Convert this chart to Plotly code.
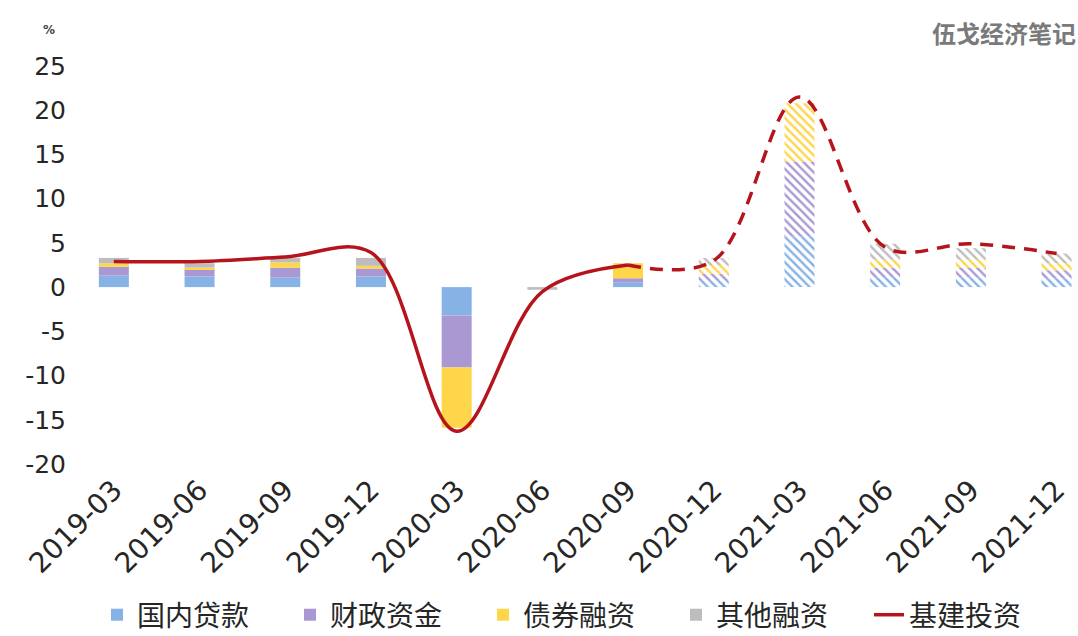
import plotly.graph_objects as go

# Quarterly contributions to infrastructure investment growth (%)
quarters = ['2019-03', '2019-06', '2019-09', '2019-12', '2020-03', '2020-06',
            '2020-09', '2020-12', '2021-03', '2021-06', '2021-09', '2021-12']

domestic_loans = [1.3, 1.2, 1.1, 1.2, -3.2, 0.0, 0.5, 0.8, 5.7, 1.1, 1.1, 1.0]
fiscal_funds = [1.0, 0.8, 1.1, 0.9, -5.9, 0.0, 0.5, 0.7, 8.5, 1.1, 1.1, 0.9]
bond_financing = [0.4, 0.2, 0.6, 0.3, -6.8, 0.0, 1.7, 1.0, 6.6, 0.9, 0.9, 0.8]
other_financing = [0.6, 0.5, 0.5, 0.9, 0.0, -0.3, 0.0, 0.8, 0.0, 1.8, 1.3, 1.1]
infra_investment = [2.9, 2.9, 3.4, 3.9, -16.3, -0.5, 2.5, 3.0, 21.5, 4.5, 4.9, 3.8]

y_ticks = [-20, -15, -10, -5, 0, 5, 10, 15, 20, 25]
y_tick_text = ['-20', '-15', '-10', '-5', '0', '5', '10', '15', '20', '25']

# Index of the last actual quarter; later quarters are projections
last_actual = 6

series = [
    ('国内贷款', domestic_loans, '#86B2E6'),
    ('财政资金', fiscal_funds, '#AA98D2'),
    ('债券融资', bond_financing, '#FFD54A'),
    ('其他融资', other_financing, '#BDBDBD'),
]

font_family = 'DejaVu Sans'
text_color = '#262626'
line_color = '#B5141C'

fig = go.Figure()

shapes = ['' if i <= last_actual else '\\' for i in range(len(quarters))]

for name, values, color in series:
    fig.add_trace(go.Bar(
        x=quarters,
        y=values,
        name=name,
        marker=dict(
            color=color,
            line=dict(width=0),
            pattern=dict(shape=shapes, fillmode='replace', fgcolor=color,
                         bgcolor='white', size=6, solidity=0.4),
        ),
    ))

# Actual investment growth: solid smoothed line
fig.add_trace(go.Scatter(
    x=quarters[:last_actual + 1],
    y=infra_investment[:last_actual + 1],
    name='基建投资',
    mode='lines',
    line=dict(color=line_color, width=3.5, shape='spline', smoothing=1.0),
))

# Projected investment growth: dashed smoothed line
fig.add_trace(go.Scatter(
    x=quarters[last_actual:],
    y=infra_investment[last_actual:],
    name='基建投资',
    mode='lines',
    showlegend=False,
    line=dict(color=line_color, width=3.5, shape='spline', smoothing=1.0,
              dash='13px,9px'),
))

fig.update_layout(
    width=1078,
    height=636,
    margin=dict(l=71, r=0, t=66, b=172),
    paper_bgcolor='white',
    plot_bgcolor='white',
    barmode='relative',
    bargap=0.65,
    font=dict(family=font_family, color=text_color),
    xaxis=dict(
        type='category',
        range=[-0.5, 11.25],
        tickangle=-45,
        tickfont=dict(size=28, family=font_family, color=text_color),
        showgrid=False,
        showline=False,
        zeroline=False,
        ticks='',
        ticklabelstandoff=3,
        automargin=False,
    ),
    yaxis=dict(
        range=[-20, 25],
        tickvals=y_ticks,
        ticktext=y_tick_text,
        tickfont=dict(size=25, family=font_family, color=text_color),
        showgrid=False,
        showline=False,
        zeroline=False,
        ticks='',
        ticklabelstandoff=4,
        automargin=False,
    ),
    legend=dict(
        orientation='h',
        xref='container',
        yref='container',
        x=0.09,
        xanchor='left',
        y=0.033,
        yanchor='middle',
        font=dict(size=28, family='Noto Sans CJK SC', color=text_color),
        itemwidth=30,
        entrywidth=148,
        entrywidthmode='pixels',
        traceorder='normal',
    ),
    annotations=[
        dict(text='<b>%</b>', xref='paper', yref='paper', x=-0.022, y=1.09,
             xanchor='center', yanchor='middle', showarrow=False,
             font=dict(size=12, family=font_family, color='#444444')),
        dict(text='<b>伍戈经济笔记</b>', xref='paper', yref='paper', x=1.0, y=1.085,
             xanchor='right', yanchor='middle', showarrow=False,
             font=dict(size=24, family='Noto Sans CJK SC', color='#7A7A7A')),
    ],
)

fig.write_html('out.html')
